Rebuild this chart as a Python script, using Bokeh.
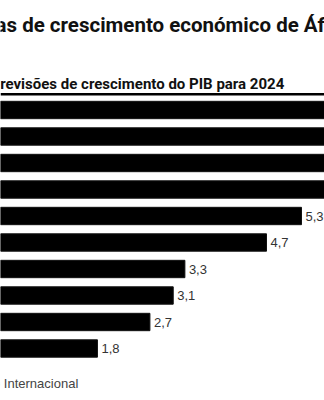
from bokeh.plotting import figure
from bokeh.models import Range1d, Label, Span, ColumnDataSource
from bokeh.embed import file_html
from bokeh.resources import INLINE

# Data (top 4 values extend beyond the visible crop; estimated)
ranks = [0, 1, 2, 3, 4, 5, 6, 7, 8, 9]
values = [7.9, 7.3, 6.8, 6.1, 5.3, 4.7, 3.3, 3.1, 2.7, 1.8]
value_labels = [f"{v:.1f}".replace(".", ",") for v in values]

title_text = "Perspectivas de crescimento económico de África"
subtitle_text = "Previsões de crescimento do PIB para 2024"
source_text = "Fonte: Fundo Monetário Internacional"

W, H = 324, 400
px_per_unit = 58.3
zero_px = -8.0
pitch = 26.5
first_center = 109.5

x0 = (0 - zero_px) / px_per_unit
x1 = (W - zero_px) / px_per_unit
y_top = -first_center / pitch
y_bot = y_top + H / pitch

p = figure(width=W, height=H, output_backend="svg", toolbar_location=None,
           x_range=Range1d(x0, x1), y_range=Range1d(y_bot, y_top),
           min_border=0, min_border_left=0, min_border_right=0,
           min_border_top=0, min_border_bottom=0)
p.axis.visible = False
p.grid.visible = False
p.outline_line_color = None
p.background_fill_color = "white"
p.border_fill_color = "white"

src = ColumnDataSource(dict(y=ranks, v=values))
p.hbar(y="y", left=0, right="v", height=0.655, source=src,
       fill_color="black", line_color="#111111", line_width=1)

# value labels only where they fall inside the visible window
vis = [i for i, v in enumerate(values) if v < x1 - 0.25]
lab_src = ColumnDataSource(dict(y=[ranks[i] for i in vis],
                                v=[values[i] for i in vis],
                                lab=[value_labels[i] for i in vis]))
p.text(x="v", y="y", text="lab", source=lab_src, x_offset=4,
       text_baseline="middle", text_align="left",
       text_font_size="13px", text_color="#333333",
       text_font={"value": "Liberation Sans"})

def sy(y_from_top):
    return H - y_from_top

p.add_layout(Label(x=-103, y=sy(24), x_units="screen", y_units="screen",
                   text=title_text, text_font="Roboto", text_font_size="20.5px",
                   text_font_style="bold", text_color="#111111",
                   text_baseline="alphabetic"))
p.add_layout(Label(x=-10, y=sy(83), x_units="screen", y_units="screen",
                   text=subtitle_text, text_font="Roboto", text_font_size="15px",
                   text_font_style="bold", text_color="#111111",
                   text_baseline="alphabetic"))
p.add_layout(Span(location=93.7 / pitch + y_top, dimension="width",
                  line_color="black", line_width=2.5))
p.add_layout(Label(x=-139, y=sy(382.5), x_units="screen", y_units="screen",
                   text=source_text, text_font="Liberation Sans",
                   text_font_size="13px", text_color="#444444",
                   text_baseline="alphabetic"))

open("out.html", "w").write(file_html(p, INLINE))
